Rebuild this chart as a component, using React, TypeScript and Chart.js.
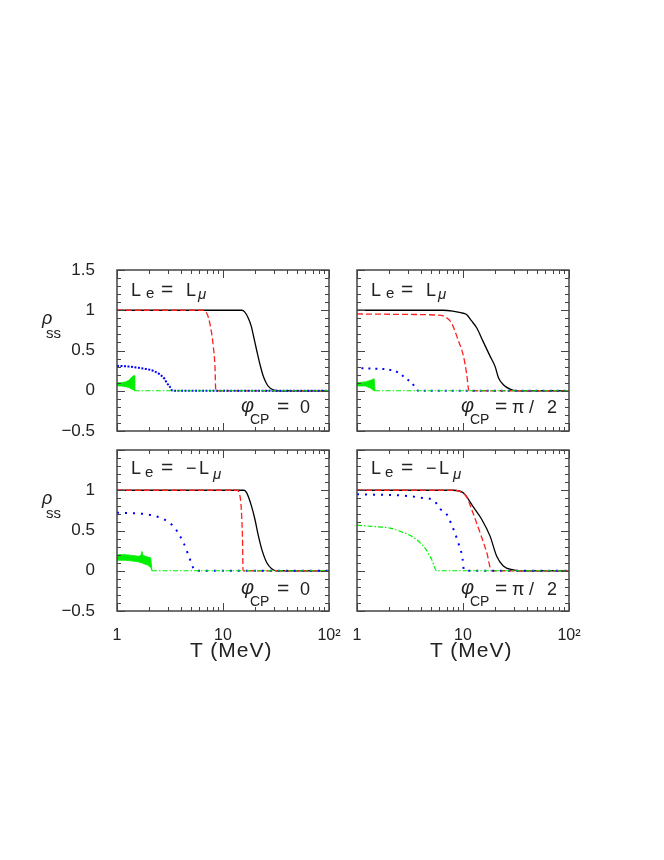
import React, { useEffect, useRef } from 'react';
import { Chart, registerables } from 'chart.js';
Chart.register(...registerables);

const FONT = '"Liberation Sans", Arial, Helvetica, sans-serif';
const W = 664;
const H = 860;
const Y_AXIS_W = 60;
const X_AXIS_H = 50;
const BLACK = '#000000';
const RED = '#ff2020';
const BLUE = '#0000ff';
const GREEN = '#00ee00';
const TEXT = '#222222';

// ---- axis ticks ----
const X_TICKS = [1, 2, 3, 4, 5, 6, 7, 8, 9, 10, 20, 30, 40, 50, 60, 70, 80, 90, 100];
const X_MAJOR = [1, 10, 100];
const X_LABELS = ['1', '10', '10\u00B2'];
const Y_MIN = -0.5;
const Y_MAX = 1.5;
const Y_MAJOR = [-0.5, 0, 0.5, 1, 1.5];
const Y_LABELS = ['\u22120.5', '0', '0.5', '1', '1.5'];
const Y_LABELS_LOWER = ['\u22120.5', '0', '0.5', '1', ''];

// ---- panel: L_e = L_mu, phi = 0 ----
const TL_BLACK_T = [1, 15, 16, 17.3, 18.5, 19.4, 20.8, 22.4, 24, 25.5, 26.8, 29.8, 33, 100];
const TL_BLACK_V = [1, 1, 0.98, 0.905, 0.8, 0.68, 0.5, 0.32, 0.18, 0.1, 0.054, 0.01, 0, 0];
const TL_RED_T = [1, 6.5, 6.9, 7.3, 7.8, 8.1, 8.4, 8.55, 100];
const TL_RED_V = [1, 1, 0.98, 0.905, 0.72, 0.55, 0.3, 0, 0];
const TL_BLUE_T = [1, 1.3, 1.6, 2.05, 2.3, 2.55, 2.8, 2.95, 3.15, 3.35, 100];
const TL_BLUE_V = [0.31, 0.3, 0.285, 0.26, 0.235, 0.2, 0.15, 0.1, 0.05, 0, 0];
const TL_GBAND_T = [1, 1.1, 1.2, 1.3, 1.38, 1.45, 1.47];
const TL_GBAND_HI = [0.1, 0.1, 0.11, 0.13, 0.17, 0.19, 0];
const TL_GBAND_LO = [0.06, 0.06, 0.05, 0.04, 0.02, 0.01, 0];
const TL_GREEN_T = [1.47, 100];
const TL_GREEN_V = [0, 0];

// ---- panel: L_e = L_mu, phi = pi/2 ----
const TR_BLACK_T = [1, 6.5, 8, 9.5, 10.8, 12, 13.5, 15.5, 18, 20.1, 21.6, 24, 27.8, 32, 100];
const TR_BLACK_V = [1, 1, 0.99, 0.97, 0.946, 0.87, 0.78, 0.61, 0.43, 0.3, 0.16, 0.075, 0.02, 0, 0];
const TR_RED_T = [1, 3, 5.6, 6.75, 7.8, 9.0, 10.1, 10.8, 11.4, 100];
const TR_RED_V = [0.954, 0.948, 0.94, 0.92, 0.84, 0.63, 0.43, 0.22, 0, 0];
const TR_BLUE_T = [1.1, 1.45, 1.77, 2.2, 2.5, 2.73, 3.0, 3.28, 3.55, 3.79, 100];
const TR_BLUE_V = [0.28, 0.275, 0.27, 0.25, 0.22, 0.18, 0.14, 0.095, 0.045, 0, 0];
const TR_GBAND_T = [1, 1.2, 1.35, 1.45, 1.48];
const TR_GBAND_HI = [0.1, 0.11, 0.13, 0.15, 0];
const TR_GBAND_LO = [0.06, 0.06, 0.03, 0, 0];
const TR_GREEN_T = [1.48, 100];
const TR_GREEN_V = [0, 0];

// ---- panel: L_e = -L_mu, phi = 0 ----
const BL_BLACK_T = [1, 15.8, 16.7, 18.6, 20, 21.6, 23.3, 25.9, 28.8, 32, 100];
const BL_BLACK_V = [1, 1, 0.97, 0.8, 0.64, 0.43, 0.26, 0.1, 0.025, 0, 0];
const BL_RED_T = [1, 13.5, 14.5, 15, 15.3, 15.45, 100];
const BL_RED_V = [1, 1, 0.92, 0.68, 0.35, 0, 0];
const BL_BLUE_T = [1, 1.65, 2.13, 2.54, 3.1, 3.52, 3.93, 4.3, 4.64, 4.95, 5.3, 5.5, 100];
const BL_BLUE_V = [0.72, 0.71, 0.69, 0.66, 0.6, 0.53, 0.43, 0.33, 0.22, 0.12, 0.02, 0, 0];
const BL_GBAND_T = [1, 1.2, 1.4, 1.6, 1.68, 1.72, 1.76, 1.95, 2.08, 2.14];
const BL_GBAND_HI = [0.2, 0.2, 0.19, 0.18, 0.19, 0.24, 0.19, 0.17, 0.16, 0];
const BL_GBAND_LO = [0.13, 0.13, 0.12, 0.11, 0.1, 0.1, 0.09, 0.07, 0.04, 0];
const BL_GREEN_T = [2.14, 100];
const BL_GREEN_V = [0, 0];

// ---- panel: L_e = -L_mu, phi = pi/2 ----
const BR_BLACK_T = [1, 8.1, 10.1, 12.4, 15, 18, 20.8, 24, 29.8, 33, 100];
const BR_BLACK_V = [1, 1, 0.967, 0.8, 0.64, 0.43, 0.18, 0.06, 0.01, 0, 0];
const BR_RED_T = [1, 8.1, 9.5, 10.8, 12.4, 14.5, 16.8, 18.6, 100];
const BR_RED_V = [1, 1, 0.98, 0.92, 0.72, 0.47, 0.22, 0, 0];
const BR_BLUE_T = [1, 2.94, 4.38, 5.25, 6.07, 7.2, 7.8, 8.4, 9.0, 9.5, 9.9, 10.1, 10.3, 100];
const BR_BLUE_V = [0.95, 0.93, 0.9, 0.88, 0.77, 0.68, 0.57, 0.47, 0.35, 0.26, 0.15, 0.04, 0, 0];
const BR_GREEN_T = [1, 1.43, 2.05, 2.54, 3.16, 3.93, 4.5, 5.06, 5.65, 100];
const BR_GREEN_V = [0.566, 0.55, 0.53, 0.49, 0.44, 0.35, 0.26, 0.14, 0, 0];

type Band = { t: number[]; hi: number[]; lo: number[] } | null;
type PanelDef = {
  left: number; top: number; right: number; bottom: number;
  showX: boolean; showY: boolean; yLabels: string[];
  black: [number[], number[]]; red: [number[], number[]]; blue: [number[], number[]];
  green: [number[], number[]]; band: Band; blueDash: number[];
};

const PANELS: PanelDef[] = [
  { left: 117, top: 270, right: 329, bottom: 431, showX: false, showY: true, yLabels: Y_LABELS,
    black: [TL_BLACK_T, TL_BLACK_V], red: [TL_RED_T, TL_RED_V], blue: [TL_BLUE_T, TL_BLUE_V],
    green: [TL_GREEN_T, TL_GREEN_V], band: { t: TL_GBAND_T, hi: TL_GBAND_HI, lo: TL_GBAND_LO }, blueDash: [2, 1.5] },
  { left: 357, top: 270, right: 569, bottom: 431, showX: false, showY: false, yLabels: Y_LABELS,
    black: [TR_BLACK_T, TR_BLACK_V], red: [TR_RED_T, TR_RED_V], blue: [TR_BLUE_T, TR_BLUE_V],
    green: [TR_GREEN_T, TR_GREEN_V], band: { t: TR_GBAND_T, hi: TR_GBAND_HI, lo: TR_GBAND_LO }, blueDash: [2, 5] },
  { left: 117, top: 450, right: 329, bottom: 611, showX: true, showY: true, yLabels: Y_LABELS_LOWER,
    black: [BL_BLACK_T, BL_BLACK_V], red: [BL_RED_T, BL_RED_V], blue: [BL_BLUE_T, BL_BLUE_V],
    green: [BL_GREEN_T, BL_GREEN_V], band: { t: BL_GBAND_T, hi: BL_GBAND_HI, lo: BL_GBAND_LO }, blueDash: [2, 6] },
  { left: 357, top: 450, right: 569, bottom: 611, showX: true, showY: false, yLabels: Y_LABELS_LOWER,
    black: [BR_BLACK_T, BR_BLACK_V], red: [BR_RED_T, BR_RED_V], blue: [BR_BLUE_T, BR_BLUE_V],
    green: [BR_GREEN_T, BR_GREEN_V], band: null, blueDash: [2, 6] },
];

function pts(t: number[], v: number[]) {
  return t.map((x, i) => ({ x, y: v[i] }));
}

const frameTicks = {
  id: 'frameTicks',
  afterDraw(chart: any) {
    const { ctx, chartArea: a, scales } = chart;
    const xs = scales.x;
    const ys = scales.y;
    ctx.save();
    ctx.strokeStyle = '#444';
    ctx.lineWidth = 1;
    ctx.beginPath();
    xs.ticks.forEach((t: any) => {
      const px = Math.round(xs.getPixelForValue(t.value)) + 0.5;
      const len = X_MAJOR.includes(t.value) ? 8 : 4;
      ctx.moveTo(px, a.bottom); ctx.lineTo(px, a.bottom - len);
      ctx.moveTo(px, a.top); ctx.lineTo(px, a.top + len);
    });
    ys.ticks.forEach((t: any) => {
      const py = Math.round(ys.getPixelForValue(t.value)) + 0.5;
      const major = Math.abs(t.value * 2 - Math.round(t.value * 2)) < 1e-6;
      const len = major ? 8 : 4;
      ctx.moveTo(a.left, py); ctx.lineTo(a.left + len, py);
      ctx.moveTo(a.right, py); ctx.lineTo(a.right - len, py);
    });
    ctx.stroke();
    ctx.lineWidth = 1.5;
    ctx.strokeRect(a.left, a.top, a.right - a.left, a.bottom - a.top);
    ctx.restore();
  },
};

function makeConfig(p: PanelDef): any {
  const datasets: any[] = [];
  if (p.band) {
    datasets.push({ data: pts(p.band.t, p.band.lo), borderColor: GREEN, borderWidth: 0.8, fill: false, tension: 0 });
    datasets.push({ data: pts(p.band.t, p.band.hi), borderColor: GREEN, borderWidth: 0.8, backgroundColor: GREEN, fill: '-1', tension: 0 });
  }
  datasets.push({ data: pts(p.green[0], p.green[1]), borderColor: GREEN, borderWidth: 1.2, borderDash: [5, 2, 1.5, 2], fill: false, cubicInterpolationMode: 'monotone' });
  datasets.push({ data: pts(p.blue[0], p.blue[1]), borderColor: BLUE, borderWidth: 2, borderDash: p.blueDash, fill: false, cubicInterpolationMode: 'monotone' });
  datasets.push({ data: pts(p.red[0], p.red[1]), borderColor: RED, borderWidth: 1.3, borderDash: [6, 3], fill: false, cubicInterpolationMode: 'monotone' });
  datasets.push({ data: pts(p.black[0], p.black[1]), borderColor: BLACK, borderWidth: 1.3, fill: false, cubicInterpolationMode: 'monotone' });
  datasets.forEach((d) => { d.pointRadius = 0; d.pointHoverRadius = 0; });

  return {
    type: 'line',
    data: { datasets },
    plugins: [frameTicks],
    options: {
      animation: false,
      responsive: false,
      events: [],
      layout: {
        padding: {
          left: p.left - Y_AXIS_W,
          top: p.top,
          right: W - p.right,
          bottom: H - p.bottom - X_AXIS_H,
        },
      },
      plugins: { legend: { display: false }, tooltip: { enabled: false } },
      scales: {
        x: {
          type: 'logarithmic',
          position: 'bottom',
          min: 1,
          max: 100,
          grid: { display: false, drawTicks: false },
          border: { display: false },
          afterBuildTicks: (s: any) => { s.ticks = X_TICKS.map((v) => ({ value: v, major: X_MAJOR.includes(v) })); },
          afterFit: (s: any) => { s.height = X_AXIS_H; s.paddingLeft = 0; s.paddingRight = 0; },
          ticks: {
            display: p.showX,
            autoSkip: false,
            maxRotation: 0,
            minRotation: 0,
            padding: 15,
            color: TEXT,
            font: { family: FONT, size: 16 },
            callback: (v: number) => {
              const i = X_MAJOR.indexOf(v);
              return i >= 0 ? X_LABELS[i] : '';
            },
          },
        },
        y: {
          type: 'linear',
          position: 'left',
          min: Y_MIN,
          max: Y_MAX,
          grid: { display: false, drawTicks: false },
          border: { display: false },
          afterBuildTicks: (s: any) => {
            const arr: any[] = [];
            for (let k = Math.round(Y_MIN * 10); k <= Math.round(Y_MAX * 10); k++) arr.push({ value: k / 10 });
            s.ticks = arr;
          },
          afterFit: (s: any) => { s.width = Y_AXIS_W; s.paddingTop = 0; s.paddingBottom = 0; },
          ticks: {
            display: p.showY,
            autoSkip: false,
            padding: 22,
            color: TEXT,
            font: { family: FONT, size: 17 },
            callback: (v: number) => {
              const i = Y_MAJOR.findIndex((m) => Math.abs(m - v) < 1e-6);
              return i >= 0 ? p.yLabels[i] : '';
            },
          },
        },
      },
    },
  };
}

function Panel({ p }: { p: PanelDef }) {
  const ref = useRef<HTMLCanvasElement | null>(null);
  useEffect(() => {
    const chart = new Chart(ref.current as HTMLCanvasElement, makeConfig(p));
    return () => chart.destroy();
  }, [p]);
  return (
    <canvas
      ref={ref}
      width={W}
      height={H}
      style={{ position: 'absolute', left: 0, top: 0, width: W, height: H }}
    />
  );
}

function Txt({ x, b, s, it, ls, children }: { x: number; b: number; s: number; it?: boolean; ls?: number; children: React.ReactNode }) {
  return (
    <div
      style={{
        position: 'absolute',
        left: x,
        top: b - 0.8465 * s,
        fontSize: s,
        lineHeight: `${s}px`,
        fontFamily: FONT,
        fontStyle: it ? 'italic' : 'normal',
        color: TEXT,
        whiteSpace: 'pre',
        letterSpacing: ls || 0,
      }}
    >
      {children}
    </div>
  );
}

function LeqLmu({ dx }: { dx: number }) {
  return (
    <>
      <Txt x={131 + dx} b={296} s={18}>L</Txt>
      <Txt x={146 + dx} b={298} s={15}>e</Txt>
      <Txt x={161 + dx} b={296} s={21}>=</Txt>
      <Txt x={186 + dx} b={296} s={18}>L</Txt>
      <Txt x={198 + dx} b={299} s={15} it>μ</Txt>
    </>
  );
}

function LeqMinusLmu({ dx }: { dx: number }) {
  return (
    <>
      <Txt x={131 + dx} b={474} s={18}>L</Txt>
      <Txt x={145 + dx} b={477} s={15}>e</Txt>
      <Txt x={161 + dx} b={474} s={21}>=</Txt>
      <Txt x={186 + dx} b={474} s={18}>−</Txt>
      <Txt x={199 + dx} b={474} s={18}>L</Txt>
      <Txt x={213 + dx} b={479} s={15} it>μ</Txt>
    </>
  );
}

function PhiZero({ b }: { b: number }) {
  return (
    <>
      <Txt x={241} b={b - 1} s={20} it>φ</Txt>
      <Txt x={250} b={b + 11} s={14}>CP</Txt>
      <Txt x={277} b={b} s={21}>=</Txt>
      <Txt x={300} b={b} s={18}>0</Txt>
    </>
  );
}

function PhiHalfPi({ b }: { b: number }) {
  return (
    <>
      <Txt x={461} b={b - 1} s={20} it>φ</Txt>
      <Txt x={470} b={b + 11} s={14}>CP</Txt>
      <Txt x={495} b={b} s={21}>=</Txt>
      <Txt x={512} b={b} s={18}>π</Txt>
      <Txt x={529} b={b} s={18}>/</Txt>
      <Txt x={547} b={b} s={18}>2</Txt>
    </>
  );
}

function RhoSS({ dy }: { dy: number }) {
  return (
    <>
      <Txt x={42} b={324 + dy} s={18} it>ρ</Txt>
      <Txt x={46} b={338 + dy} s={15}>ss</Txt>
    </>
  );
}

export default function App() {
  return (
    <div style={{ position: 'absolute', left: 0, top: 0, width: W, height: H, background: '#fff', overflow: 'hidden' }}>
      {PANELS.map((p, i) => (
        <Panel key={i} p={p} />
      ))}
      <LeqLmu dx={0} />
      <LeqLmu dx={240} />
      <LeqMinusLmu dx={0} />
      <LeqMinusLmu dx={240} />
      <PhiZero b={413} />
      <PhiZero b={595} />
      <PhiHalfPi b={413} />
      <PhiHalfPi b={595} />
      <RhoSS dy={0} />
      <RhoSS dy={180} />
      <Txt x={190} b={657} s={21} ls={1}>T (MeV)</Txt>
      <Txt x={430} b={657} s={21} ls={1}>T (MeV)</Txt>
    </div>
  );
}
